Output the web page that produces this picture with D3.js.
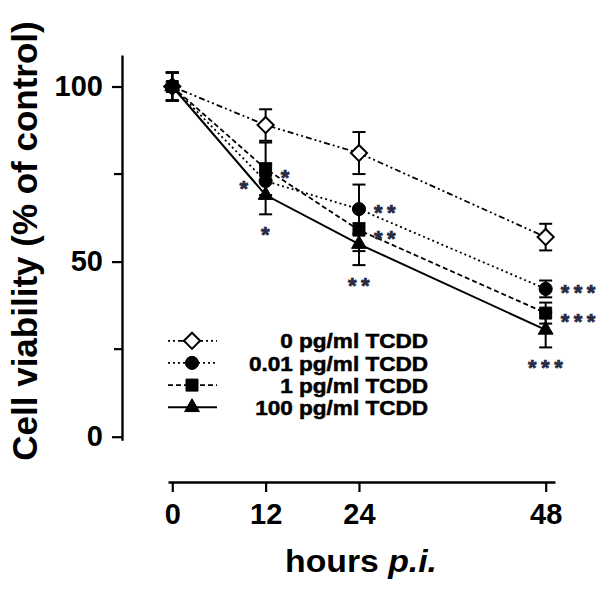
<!DOCTYPE html>
<html><head><meta charset="utf-8">
<script src="https://cdn.jsdelivr.net/npm/d3@7"></script>
<style>
html,body{margin:0;padding:0;background:#fff;}
svg{display:block;font-family:"Liberation Sans",Arial,sans-serif;font-weight:bold;}
</style></head>
<body><svg id="c" width="615" height="590"></svg>
<script>
// ---- data ----
const hours = [0, 12, 24, 48];
const seriesNames = ["0 pg/ml TCDD", "0.01 pg/ml TCDD", "1 pg/ml TCDD", "100 pg/ml TCDD"];
const mean0   = [100, 89, 81, 57];
const err0    = [4, 4.5, 6, 3.8];
const mean001 = [100, 73, 65, 42.2];
const err001  = [4, 5, 7, 2.4];
const mean1   = [100, 76.5, 59, 35.3];
const err1    = [4, 7.5, 6, 3];
const mean100 = [100, 69, 55, 30.5];
const err100  = [4, 5.5, 6, 5];
const stars0   = ["", "", "", ""];
const stars001 = ["", "*", "**", "***"];
const stars1   = ["", "*", "**", "***"];
const stars100 = ["", "*", "**", "***"];
const yTickValues = [0, 50, 100];
const yMinorTicks = [25, 75];
const xTickValues = [0, 12, 24, 48];
const yTitle = "Cell viability (% of control)";

// ---- styling per series ----
const series = [
  {name: seriesNames[0], mean: mean0, err: err0, stars: stars0, dash: "2,3,2,3,6,3", sym: "diamond", fill: "#fff", sides: ["","","",""], sdy: 0},
  {name: seriesNames[1], mean: mean001, err: err001, stars: stars001, dash: "2,3", sym: "circle", fill: "#000", sides: ["","left","right","right"], sdy: -2.5},
  {name: seriesNames[2], mean: mean1, err: err1, stars: stars1, dash: "5,3", sym: "square", fill: "#000", sides: ["","right","right","right"], sdy: 2},
  {name: seriesNames[3], mean: mean100, err: err100, stars: stars100, dash: null, sym: "triangle", fill: "#000", sides: ["","below","below","below"], sdy: 0}
];

const svg = d3.select("#c");
const x = d3.scaleLinear().domain([-0.55, 49.2]).range([168, 555]);
const y = d3.scaleLinear().domain([-1, 109]).range([440.2, 55]);

function symPath(s) {
  if (s === "diamond") return d3.symbol(d3.symbolSquare, 130)();
  if (s === "circle") return d3.symbol(d3.symbolCircle, 135)();
  if (s === "square") return d3.symbol(d3.symbolSquare, 144)();
  return d3.symbol(d3.symbolTriangle, 95)();
}
function symRot(s) { return s === "diamond" ? " rotate(45)" : ""; }

// ---- axes ----
const yAxis = d3.axisLeft(y).tickValues(yTickValues).tickSize(10).tickPadding(9).tickSizeOuter(0);
const gy = svg.append("g").attr("transform", "translate(122,0)").call(yAxis);
gy.append("g").selectAll("line").data(yMinorTicks).join("line")
  .attr("x1", -8).attr("x2", 0).attr("y1", d => y(d)).attr("y2", d => y(d))
  .attr("stroke", "#000").attr("stroke-width", 2.2);

const xAxis = d3.axisBottom(x).tickValues(xTickValues).tickSize(10).tickPadding(11).tickSizeOuter(0);
const gx = svg.append("g").attr("transform", "translate(0,482)").call(xAxis);

[gy, gx].forEach(g => {
  g.select(".domain").attr("stroke", "#000").attr("stroke-width", 2.4);
  g.selectAll(".tick line").attr("stroke", "#000").attr("stroke-width", 2.2);
  g.selectAll(".tick text").attr("fill", "#000")
    .style("font-family", "'Liberation Sans',Arial,sans-serif")
    .style("font-weight", "bold").style("font-size", "29px");
});

// axis titles
svg.append("text").attr("transform", "translate(36.5,241) rotate(-90)")
  .attr("text-anchor", "middle").style("font-size", "35px").attr("fill", "#000").text(yTitle);

const xt = svg.append("text").attr("x", 361).attr("y", 572).attr("text-anchor", "middle")
  .style("font-size", "31px").attr("fill", "#000")
  .attr("textLength", 152).attr("lengthAdjust", "spacingAndGlyphs");
xt.append("tspan").text("hours ");
xt.append("tspan").style("font-style", "italic").text("p.i.");

// ---- error bars ----
const plot = svg.append("g");
series.forEach(s => {
  const g = plot.append("g");
  const pts = hours.map((h, i) => ({h, m: s.mean[i], e: s.err[i]}));
  g.selectAll("line.v").data(pts).join("line")
    .attr("x1", d => x(d.h)).attr("x2", d => x(d.h))
    .attr("y1", d => y(d.m + d.e)).attr("y2", d => y(d.m - d.e))
    .attr("stroke", "#000").attr("stroke-width", 2);
  ["+", "-"].forEach(sign => {
    g.selectAll("line.c" + (sign === "+" ? "p" : "m")).data(pts).join("line")
      .attr("x1", d => x(d.h) - 6.5).attr("x2", d => x(d.h) + 6.5)
      .attr("y1", d => y(sign === "+" ? d.m + d.e : d.m - d.e))
      .attr("y2", d => y(sign === "+" ? d.m + d.e : d.m - d.e))
      .attr("stroke", "#000").attr("stroke-width", 2);
  });
});

// ---- lines ----
const line = d3.line().x((d, i) => x(hours[i])).y(d => y(d));
series.forEach(s => {
  plot.append("path").datum(s.mean).attr("d", line)
    .attr("fill", "none").attr("stroke", "#000")
    .attr("stroke-width", s.dash ? 1.8 : 2)
    .attr("stroke-dasharray", s.dash);
});

// ---- markers ----
series.forEach(s => {
  plot.append("g").selectAll("path").data(s.mean).join("path")
    .attr("d", symPath(s.sym))
    .attr("transform", (d, i) => `translate(${x(hours[i])},${y(d)})` + symRot(s.sym))
    .attr("fill", s.fill).attr("stroke", "#000").attr("stroke-width", s.fill === "#fff" ? 2 : 1);
});

// ---- significance stars ----
const starColor = "#272b45";
const starSize = 22;
series.forEach(s => {
  s.stars.forEach((lab, i) => {
    if (!lab) return;
    const side = s.sides[i];
    const px = x(hours[i]), py = y(s.mean[i]);
    let tx, ty, anchor;
    if (side === "right") { tx = px + 15; ty = py + 1 + s.sdy; anchor = "start"; }
    else if (side === "left") { tx = px - 13; ty = py + 2; anchor = "end"; }
    else { tx = px + 2; ty = y(s.mean[i] - s.err[i]) + 15; anchor = "middle"; }
    svg.append("text").attr("x", tx).attr("y", ty + starSize * 0.58).attr("text-anchor", anchor)
      .style("font-size", starSize + "px").style("letter-spacing", "4.5px")
      .attr("fill", starColor).attr("stroke", starColor).attr("stroke-width", 0.7)
      .attr("stroke-linejoin", "miter").text(lab);
  });
});

// ---- legend ----
const legRows = [340.8, 362.9, 385.1, 407.3];
const legFont = 19.6;
const leg = svg.append("g");
series.forEach((s, i) => {
  const ry = legRows[i];
  leg.append("line").attr("x1", 168).attr("x2", 217).attr("y1", ry).attr("y2", ry)
    .attr("stroke", "#000").attr("stroke-width", s.dash ? 1.8 : 2).attr("stroke-dasharray", s.dash);
  leg.append("path").attr("d", symPath(s.sym))
    .attr("transform", `translate(192,${ry})` + symRot(s.sym))
    .attr("fill", s.fill).attr("stroke", "#000").attr("stroke-width", s.fill === "#fff" ? 2 : 1);
  const t = leg.append("text").attr("x", 428).attr("y", ry + 7.6).attr("text-anchor", "end")
    .style("font-size", legFont + "px").attr("fill", "#000")
    .attr("stroke", "#000").attr("stroke-width", 0.5).text(s.name);
  const w = t.node().getComputedTextLength();
  t.attr("textLength", w * 1.15).attr("lengthAdjust", "spacingAndGlyphs");
});
</script></body></html>
